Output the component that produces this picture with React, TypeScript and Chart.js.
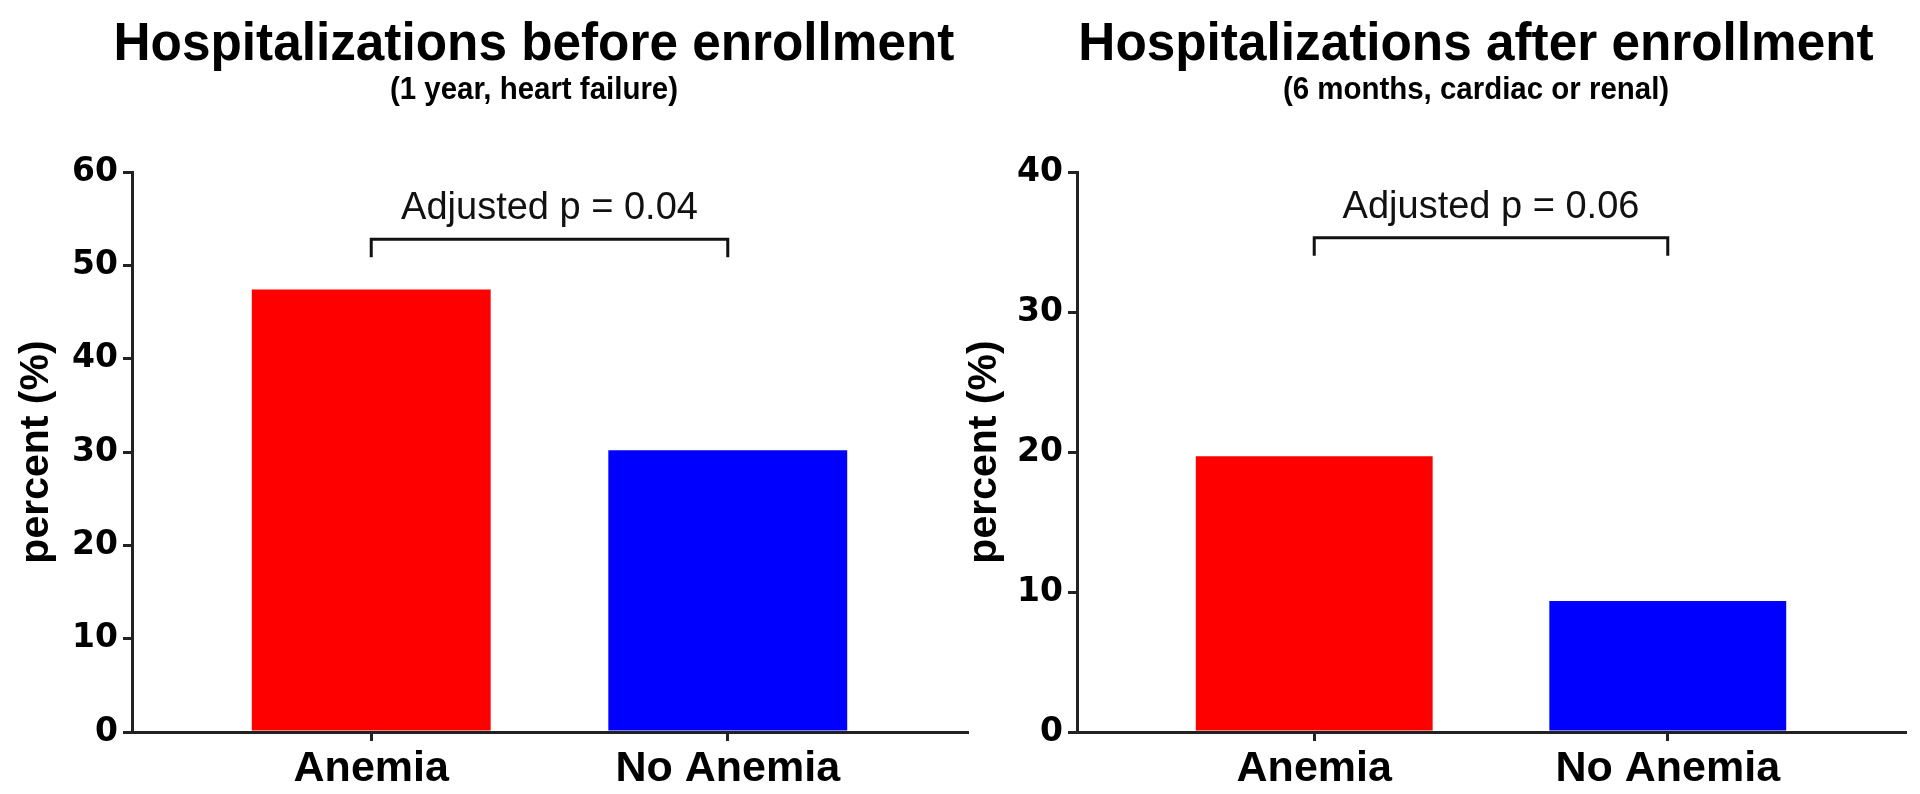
import React, { useEffect, useRef } from 'react';
import { Chart, registerables } from 'chart.js';

Chart.register(...registerables);

// ---- data ----
const categories = ['Anemia', 'No Anemia'];
const beforeValues = [47.4, 30.2];
const afterValues = [19.7, 9.35];
const barColors = ['#ff0000', '#0000ff'];
const titles = ['Hospitalizations before enrollment', 'Hospitalizations after enrollment'];
const subtitles = ['(1 year, heart failure)', '(6 months, cardiac or renal)'];
const pLabels = ['Adjusted p = 0.04', 'Adjusted p = 0.06'];
const bracketLevels = [52.8, 35.3];
const yMaxes = [60, 40];
const yStep = 10;
const yAxisTitle = 'percent (%)';

const FONT = '"Liberation Sans", Arial, Helvetica, sans-serif';
const TICK_FONT = '"DejaVu Sans", "Liberation Sans", Arial, sans-serif';

function condensedText(
  ctx: CanvasRenderingContext2D,
  text: string,
  x: number,
  y: number,
  sx: number
) {
  ctx.save();
  ctx.translate(x, y);
  ctx.scale(sx, 1);
  ctx.fillText(text, 0, 0);
  ctx.restore();
}

const annotatePlugin = {
  id: 'annotate',
  afterDraw(chart: any, _args: any, opts: any) {
    const ctx = chart.ctx as CanvasRenderingContext2D;
    const xs = chart.scales.x;
    const ys = chart.scales.y;
    ctx.save();
    ctx.fillStyle = '#000';
    ctx.textAlign = 'center';
    ctx.textBaseline = 'alphabetic';
    ctx.font = `bold 54px ${FONT}`;
    condensedText(ctx, opts.title, opts.titleX, 60, 0.95);
    ctx.font = `bold 31px ${FONT}`;
    condensedText(ctx, opts.subtitle, opts.titleX, 99, 0.95);

    const x0 = xs.getPixelForValue(0);
    const x1 = xs.getPixelForValue(1);
    const y = ys.getPixelForValue(opts.level);
    ctx.strokeStyle = '#111';
    ctx.lineWidth = 3;
    ctx.beginPath();
    ctx.moveTo(x0, y + 18);
    ctx.lineTo(x0, y);
    ctx.lineTo(x1, y);
    ctx.lineTo(x1, y + 18);
    ctx.stroke();
    ctx.fillStyle = '#111';
    ctx.font = `38px ${FONT}`;
    ctx.fillText(opts.pText, (x0 + x1) / 2, y - 20);
    ctx.restore();
  },
};

type PanelProps = {
  idx: number;
  values: number[];
  left: number;
  width: number;
  padding: { left: number; right: number; top: number; bottom: number };
  yWidth: number;
  titleX: number;
};

function Panel({ idx, values, left, width, padding, yWidth, titleX }: PanelProps) {
  const ref = useRef<HTMLCanvasElement | null>(null);
  useEffect(() => {
    if (!ref.current) return;
    const chart = new Chart(ref.current, {
      type: 'bar',
      data: {
        datasets: [
          {
            data: values.map((v, i) => ({ x: i, y: v })),
            backgroundColor: barColors,
            borderWidth: 0,
            barPercentage: 0.67,
            categoryPercentage: 1,
          },
        ],
      },
      options: {
        responsive: false,
        animation: false,
        devicePixelRatio: 1,
        layout: { padding },
        plugins: {
          legend: { display: false },
          tooltip: { enabled: false },
          title: { display: false },
          annotate: {
            title: titles[idx],
            subtitle: subtitles[idx],
            pText: pLabels[idx],
            level: bracketLevels[idx],
            titleX,
          },
        } as any,
        scales: {
          x: {
            type: 'linear',
            offset: false,
            min: -0.671,
            max: categories.length - 1 + 0.671,
            afterBuildTicks: (s: any) => {
              s.ticks = categories.map((_, i) => ({ value: i }));
            },
            afterFit: (s: any) => {
              s.height = 62;
            },
            ticks: {
              autoSkip: false,
              maxRotation: 0,
              padding: 2,
              color: '#000',
              font: { family: FONT, size: 43, weight: 'bold' },
              callback: (v: any) => categories[v as number] ?? '',
            },
            grid: {
              display: true,
              offset: false,
              drawOnChartArea: false,
              drawTicks: true,
              tickLength: 9,
              lineWidth: 3,
              color: '#222',
            },
            border: { display: true, width: 3, color: '#222', z: 1 },
          },
          y: {
            type: 'linear',
            min: 0,
            max: yMaxes[idx],
            afterFit: (s: any) => {
              s.width = yWidth;
            },
            ticks: {
              stepSize: yStep,
              padding: 5,
              color: '#000',
              font: { family: TICK_FONT, size: 33, weight: 'bold' },
            },
            grid: {
              display: true,
              drawOnChartArea: false,
              drawTicks: true,
              tickLength: 9,
              lineWidth: 3,
              color: '#222',
            },
            border: { display: true, width: 3, color: '#222', z: 1 },
            title: {
              display: true,
              text: yAxisTitle,
              color: '#000',
              padding: { top: 12, bottom: 0 },
              font: { family: FONT, size: 41, weight: 'bold' },
            },
          },
        },
      } as any,
      plugins: [annotatePlugin],
    });
    return () => chart.destroy();
  }, []);
  return (
    <canvas
      ref={ref}
      width={width}
      height={794}
      style={{ position: 'absolute', left, top: 0, width, height: 794 }}
    />
  );
}

export default function App() {
  return (
    <div
      style={{
        position: 'absolute',
        left: 0,
        top: 0,
        width: 1920,
        height: 794,
        background: '#fff',
        overflow: 'hidden',
      }}
    >
      <Panel
        idx={0}
        values={beforeValues}
        left={0}
        width={970}
        padding={{ left: 0, right: 3, top: 172, bottom: 0 }}
        yWidth={132}
        titleX={534}
      />
      <Panel
        idx={1}
        values={afterValues}
        left={940}
        width={980}
        padding={{ left: 8, right: 15, top: 172, bottom: 0 }}
        yWidth={129}
        titleX={536}
      />
    </div>
  );
}
